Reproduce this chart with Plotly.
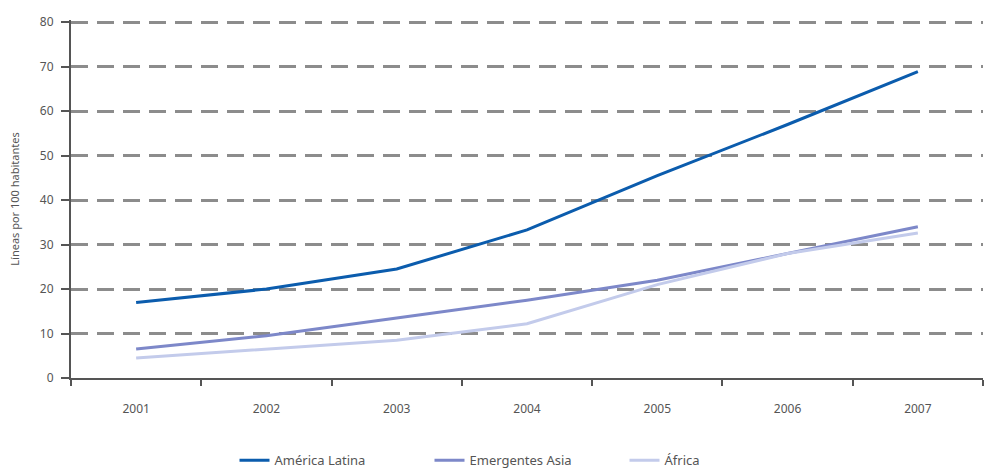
import plotly.graph_objects as go

# Fixed telephone lines per 100 inhabitants, 2001-2007
years = ["2001", "2002", "2003", "2004", "2005", "2006", "2007"]
america_latina = [17.0, 20.0, 24.5, 33.3, 45.5, 57.0, 68.9]
emergentes_asia = [6.5, 9.5, 13.5, 17.5, 22.0, 28.0, 34.0]
africa = [4.5, 6.5, 8.5, 12.2, 21.0, 28.0, 32.6]

y_ticks = [0, 10, 20, 30, 40, 50, 60, 70, 80]

series = [
    ("América Latina", america_latina, "#0b5cad"),
    ("Emergentes Asia", emergentes_asia, "#7d88c9"),
    ("África", africa, "#c3cbeb"),
]

fig = go.Figure()
for name, values, color in series:
    fig.add_trace(go.Scatter(
        x=years, y=values, name=name, mode="lines",
        line=dict(color=color, width=3),
    ))

font_family = "Noto Sans"
fig.update_layout(
    width=985, height=472,
    margin=dict(l=71, r=2, t=20, b=94, autoexpand=False),
    paper_bgcolor="white", plot_bgcolor="white",
    font=dict(family=font_family, size=12, color="#555555"),
    showlegend=True,
    legend=dict(
        orientation="h", x=0.5, xanchor="center",
        yref="container", y=0.025, yanchor="middle",
        font=dict(size=13, color="#555555"),
        entrywidth=150,
    ),
)

fig.update_xaxes(
    type="category", range=[-0.5, 6.5],
    showline=True, linecolor="#555555", linewidth=2,
    ticks="outside", tickson="boundaries", ticklen=6, tickwidth=2, tickcolor="#555555",
    showgrid=False, zeroline=False,
    tickfont=dict(size=12, color="#555555"),
    ticklabelstandoff=19,
)

fig.update_yaxes(
    range=[0, 80.5], tickvals=y_ticks,
    showline=True, linecolor="#555555", linewidth=2,
    ticks="outside", ticklen=8, tickwidth=2, tickcolor="#555555",
    showgrid=True, gridcolor="#8c8c8c", gridwidth=3, griddash="17px,9px",
    zeroline=False,
    tickfont=dict(size=12, color="#555555"),
    ticklabelstandoff=5,
    title=dict(text="Líneas por 100 habitantes", font=dict(size=11, color="#555555"), standoff=18),
)

fig.write_html("out.html")
